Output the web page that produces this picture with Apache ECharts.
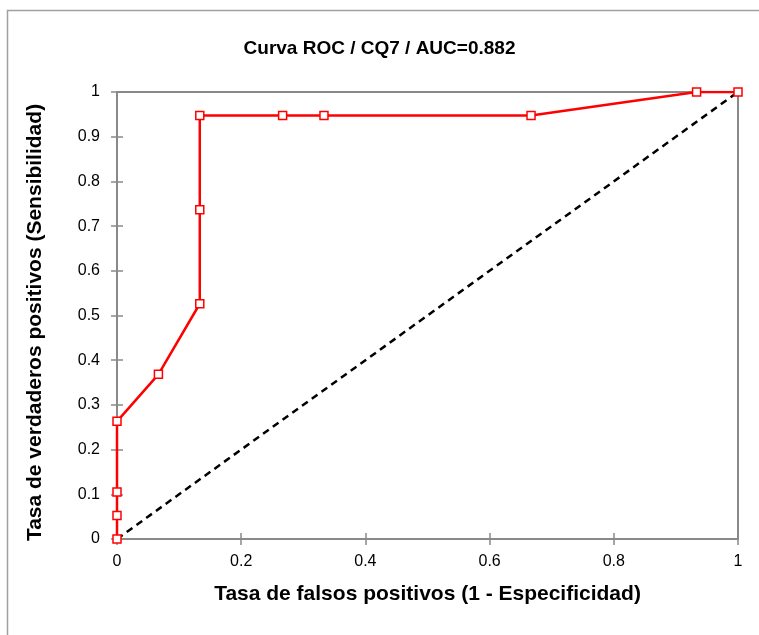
<!DOCTYPE html>
<html><head><meta charset="utf-8">
<script src="https://cdn.jsdelivr.net/npm/echarts@6/dist/echarts.min.js"></script>
<style>html,body{margin:0;padding:0;background:#fff}#c{width:759px;height:635px}</style>
</head><body><div id="c"></div>
<script>
const fpr = [0, 0, 0, 0, 0.0667, 0.1333, 0.1333, 0.1333, 0.2667, 0.3333, 0.6667, 0.9333, 1];
const tpr = [0, 0.0526, 0.1053, 0.2632, 0.3684, 0.5263, 0.7368, 0.9474, 0.9474, 0.9474, 0.9474, 1, 1];
const refX = [0, 1];
const refY = [0, 1];
const titleText = 'Curva ROC / CQ7 / AUC=0.882';
const xName = 'Tasa de falsos positivos (1 - Especificidad)';
const yName = 'Tasa de verdaderos positivos (Sensibilidad)';

const axisGrey = '#898989';
const chart = echarts.init(document.getElementById('c'));
const fmt = v => (Math.abs(v - Math.round(v)) < 1e-9 ? String(Math.round(v)) : String(+v.toFixed(1)));
const baseX = {type: 'value', min: 0, max: 1, interval: 0.2, splitLine: {show: false}};
const baseY = {type: 'value', min: 0, max: 1, interval: 0.1, splitLine: {show: false}};
chart.setOption({
  animation: false,
  backgroundColor: '#fff',
  title: {text: titleText, left: 'center', top: 34,
    textStyle: {fontFamily: 'Liberation Sans, Arial, sans-serif', fontWeight: 'bold', fontSize: 19, color: '#000'}},
  graphic: [{type: 'rect', shape: {x: 7.5, y: 10.5, width: 800, height: 700}, style: {fill: 'none', stroke: '#a0a0a0', lineWidth: 1.5}, silent: true, z: -1}],
  grid: {left: 117, top: 92, width: 621, height: 447, show: true, borderColor: axisGrey, borderWidth: 2, backgroundColor: 'transparent'},
  xAxis: [
    Object.assign({}, baseX, {position: 'bottom',
      axisLine: {lineStyle: {color: axisGrey, width: 2}},
      axisTick: {length: 6, lineStyle: {color: axisGrey, width: 1.5}},
      axisLabel: {formatter: fmt, color: '#000', fontSize: 16, margin: 15, fontFamily: 'Liberation Sans, Arial, sans-serif'},
      name: xName, nameLocation: 'middle', nameGap: 45,
      nameTextStyle: {fontFamily: 'Liberation Sans, Arial, sans-serif', fontWeight: 'bold', fontSize: 21, color: '#000'}}),
    Object.assign({}, baseX, {position: 'bottom',
      axisLine: {show: false},
      axisTick: {inside: true, length: 6, lineStyle: {color: axisGrey, width: 1.5}},
      axisLabel: {show: false}})
  ],
  yAxis: [
    Object.assign({}, baseY, {position: 'left',
      axisLine: {lineStyle: {color: axisGrey, width: 2}},
      axisTick: {length: 6, lineStyle: {color: axisGrey, width: 1.5}},
      axisLabel: {formatter: fmt, color: '#000', fontSize: 16, margin: 17, fontFamily: 'Liberation Sans, Arial, sans-serif'},
      name: yName, nameLocation: 'middle', nameGap: 71,
      nameTextStyle: {fontFamily: 'Liberation Sans, Arial, sans-serif', fontWeight: 'bold', fontSize: 21, color: '#000', padding: [0, 14, 0, 0]}}),
    Object.assign({}, baseY, {position: 'left',
      axisLine: {show: false},
      axisTick: {inside: true, length: 6, lineStyle: {color: axisGrey, width: 1.5}},
      axisLabel: {show: false}})
  ],
  series: [
    {type: 'line', xAxisIndex: 0, yAxisIndex: 0,
      data: refX.map((x, i) => [x, refY[i]]),
      symbol: 'none', lineStyle: {color: '#000', width: 2.5, type: [7, 5]}, z: 2},
    {type: 'line', xAxisIndex: 0, yAxisIndex: 0,
      data: fpr.map((x, i) => [x, tpr[i]]),
      symbol: 'rect', symbolSize: 8, showAllSymbol: true,
      lineStyle: {color: '#ff0000', width: 2.5},
      itemStyle: {color: '#fff', borderColor: '#ff0000', borderWidth: 1.5}, z: 3}
  ]
});
</script></body></html>
